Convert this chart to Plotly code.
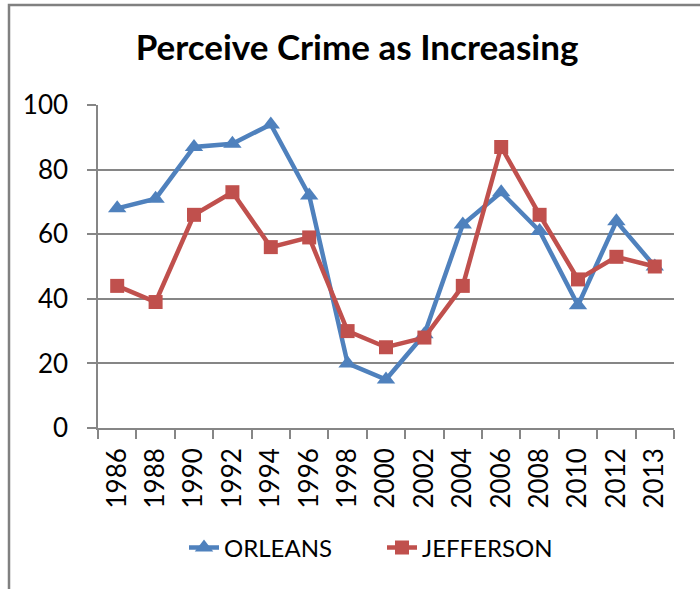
import plotly.graph_objects as go

years = ["1986", "1988", "1990", "1992", "1994", "1996", "1998", "2000",
         "2002", "2004", "2006", "2008", "2010", "2012", "2013"]
orleans = [68, 71, 87, 88, 94, 72, 20, 15, 29, 63, 73, 61, 38, 64, 50]
jefferson = [44, 39, 66, 73, 56, 59, 30, 25, 28, 44, 87, 66, 46, 53, 50]

BLUE = "#4F81BD"
RED = "#C0504D"
GRAY = "#868686"
FONT = "Lato"

W, H = 700, 589
L, R, T, B = 98, 26, 105, 161
pw, ph = W - L - R, H - T - B

def px_x(x):
    return (x - L) / pw

def px_y(y):
    return (H - B - y) / ph

fig = go.Figure()
fig.add_trace(go.Scatter(
    x=years, y=orleans, name="ORLEANS", mode="lines+markers",
    line=dict(color=BLUE, width=4.5),
    marker=dict(symbol="triangle-up", size=16, color=BLUE),
    legend="legend",
))
fig.add_trace(go.Scatter(
    x=years, y=jefferson, name="JEFFERSON", mode="lines+markers",
    line=dict(color=RED, width=4.5),
    marker=dict(symbol="square", size=14, color=RED),
    legend="legend2",
))

# outer frame (left and top edges visible)
fig.add_shape(
    type="path", xref="paper", yref="paper",
    path=f"M {px_x(9)} {px_y(700)} L {px_x(9)} {px_y(5)} L {px_x(720)} {px_y(5)}",
    line=dict(color="#808080", width=2.5),
)

legend_common = dict(orientation="h", xanchor="left", y=px_y(548), yanchor="middle",
                     font=dict(family=FONT, size=24, color="black"),
                     bgcolor="rgba(0,0,0,0)")

fig.update_layout(
    width=W, height=H,
    margin=dict(l=L, r=R, t=T, b=B, autoexpand=False),
    paper_bgcolor="white", plot_bgcolor="white",
    font=dict(family=FONT, color="black", size=25),
    title=dict(text="<b>Perceive Crime as Increasing</b>", x=px_x(357), xanchor="center",
               xref="paper", y=1 - 48 / H, yanchor="middle",
               font=dict(family=FONT, size=35, color="black")),
    showlegend=True,
    legend=dict(x=px_x(184), **legend_common),
    legend2=dict(x=px_x(382), **legend_common),
    xaxis=dict(
        type="category", range=[-0.5, 14.5],
        showgrid=False, showline=True, linecolor=GRAY, linewidth=1.5,
        ticks="outside", tickson="boundaries", ticklen=9, tickcolor=GRAY, tickwidth=1.5,
        tickangle=-90, tickfont=dict(family=FONT, size=26), ticklabelstandoff=8,
        zeroline=False, automargin=False,
    ),
    yaxis=dict(
        range=[0, 100], dtick=20, tick0=0,
        showgrid=True, gridcolor=GRAY, gridwidth=1.5,
        showline=True, linecolor=GRAY, linewidth=1.5,
        ticks="outside", ticklen=9, tickcolor=GRAY, tickwidth=1.5,
        tickfont=dict(family=FONT, size=26), ticklabelstandoff=14,
        zeroline=False, automargin=False,
    ),
)

fig.write_html("out.html", config={"displayModeBar": False},
               post_script="document.body.style.margin='0';")
